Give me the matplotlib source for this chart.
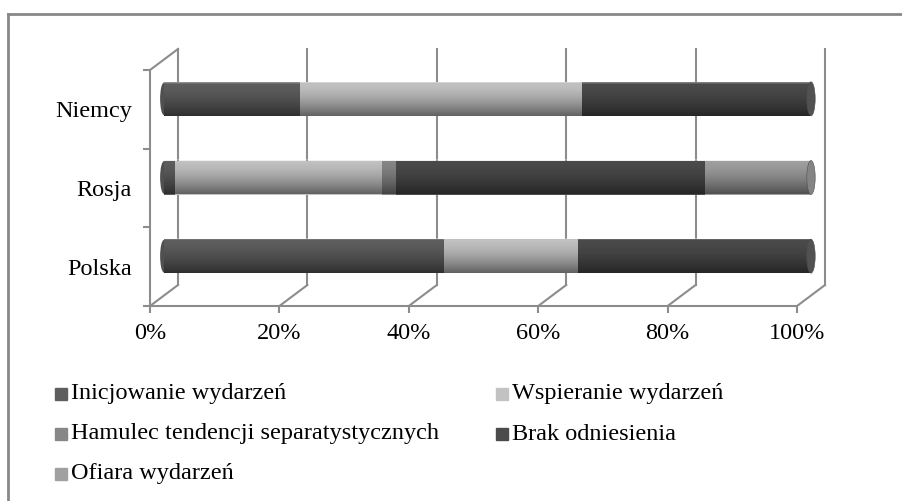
import numpy as np
import matplotlib.pyplot as plt
from matplotlib.patches import Ellipse, Rectangle
from matplotlib.lines import Line2D

# dane (udzialy w %)
kraje = ['Polska', 'Rosja', 'Niemcy']
kategorie = ['Inicjowanie wydarzeń', 'Wspieranie wydarzeń',
             'Hamulec tendencji separatystycznych', 'Brak odniesienia',
             'Ofiara wydarzeń']
inicjowanie = [43.3, 1.7, 21.0]
wspieranie = [20.7, 32.0, 43.6]
hamulec = [0.0, 2.1, 0.0]
brak = [36.0, 47.8, 35.4]
ofiara = [0.0, 16.4, 0.0]
procenty = [0, 20, 40, 60, 80, 100]

serie = [inicjowanie, wspieranie, hamulec, brak, ofiara]
kolory = ['#5e5e5e', '#c2c2c2', '#878787', '#4b4b4b', '#a0a0a0']
szary = '#8c8c8c'

plt.rcParams['font.family'] = ['Liberation Serif', 'DejaVu Serif']

W, H = 902, 501
fig = plt.figure(figsize=(W / 100, H / 100), dpi=100)

# przednia plaszczyzna: 0% -> px 150, 100% -> px 797, wiersze 306..70
px_x = (797 - 150) / 100
px_y = (306 - 70) / 3
DX = 28 / px_x
DY = 21 / px_y
x_max = (836 - 150) / px_x
y_max = -0.5 + (306 - 40) / px_y

ax = fig.add_axes([150 / W, (H - 306) / H, 686 / W, 266 / H])

# sciany "3D"
for p in procenty:
    ax.plot([p + DX, p + DX], [-0.5 + DY, 2.5 + DY], color=szary, lw=1.5, zorder=1)
    ax.plot([p, p + DX], [-0.5, -0.5 + DY], color=szary, lw=1.5, zorder=1)
ax.plot([0, DX], [2.5, 2.5 + DY], color=szary, lw=1.5, zorder=1)

# slupki-walce
h = 34 / px_y
cien = np.zeros((60, 1, 4))
t = np.linspace(0, 1, 60)
cien[:, 0, 3] = 0.5 * t ** 1.6
cien[t < 0.05, 0, :3] = 1.0
cien[t < 0.05, 0, 3] = 0.3

for i, kraj in enumerate(kraje):
    y = i + DY / 2
    lewo = DX / 2
    wartosci = [s[i] for s in serie]
    pierwszy = next(k for k, v in enumerate(wartosci) if v > 0)
    ostatni = max(k for k, v in enumerate(wartosci) if v > 0)
    c0 = np.array(plt.matplotlib.colors.to_rgb(kolory[pierwszy])) * 0.85
    ax.add_patch(Ellipse((lewo, y), 1.2, h * 0.96, color=c0, lw=0, zorder=2.9))
    start = lewo
    for k, v in enumerate(wartosci):
        if v <= 0:
            continue
        ax.barh(y, v, left=start, height=h, color=kolory[k], zorder=3)
        start += v
    ax.imshow(cien, extent=(lewo, start, y - h / 2, y + h / 2), aspect='auto',
              interpolation='bilinear', zorder=3.5)
    c = np.array(plt.matplotlib.colors.to_rgb(kolory[ostatni]))
    c = 0.6 * c + 0.4 * 0.35
    ax.add_patch(Ellipse((start, y), 1.3, h, facecolor=c, edgecolor='#505050',
                         lw=0.4, zorder=4))

ax.set_xlim(0, x_max)
ax.set_ylim(-0.5, y_max)

for s in ['top', 'right']:
    ax.spines[s].set_visible(False)
ax.spines['left'].set_bounds(-0.5, 2.5)
ax.spines['bottom'].set_bounds(0, 100)
for s in ['left', 'bottom']:
    ax.spines[s].set_color(szary)
    ax.spines[s].set_linewidth(1.5)

ax.set_xticks(procenty)
ax.set_xticklabels([f'{p}%' for p in procenty])
ax.tick_params(axis='x', length=5, width=1.5, color=szary, pad=7, labelsize=17.5)
ax.set_yticks([0, 1, 2])
ax.set_yticklabels(kraje)
ax.set_yticks([-0.5, 0.5, 1.5, 2.5], minor=True)
ax.tick_params(axis='y', which='major', length=0, pad=13, labelsize=17.5)
ax.tick_params(axis='y', which='minor', length=5, width=1.5, color=szary)

# legenda
for k, nazwa in enumerate(kategorie):
    wiersz, kol = k // 2, k % 2
    x0 = [55, 496][kol]
    yc = 394 + 40 * wiersz
    fig.add_artist(Rectangle((x0 / W, (H - yc - 6) / H), 12 / W, 12 / H,
                             transform=fig.transFigure, color=kolory[k]))
    fig.text((x0 + 16) / W, (H - yc) / H, nazwa, va='center', fontsize=17.5)

# ramka
fig.add_artist(Line2D([8 / W, 8 / W], [0, (H - 14) / H], color='#888888', lw=2))
fig.add_artist(Line2D([8 / W, 1], [(H - 14) / H, (H - 14) / H], color='#888888', lw=2))

plt.savefig('out.png', dpi=100)
